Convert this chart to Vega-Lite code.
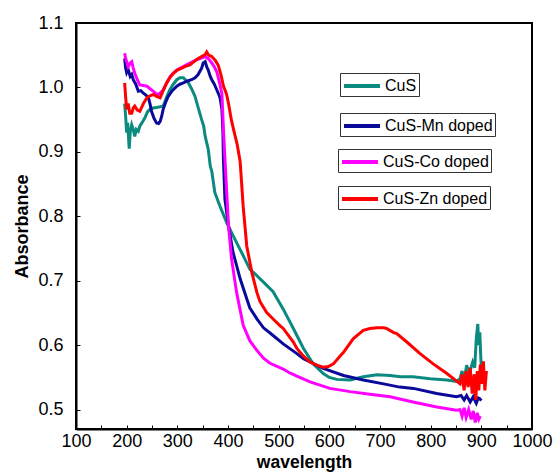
{
  "$schema": "https://vega.github.io/schema/vega-lite/v6.json",
  "autosize": {"type": "none"},
  "padding": {"left": 76, "top": 23, "right": 22, "bottom": 46},
  "width": 456,
  "height": 406,
  "background": "white",
  "config": {
    "font": "Liberation Sans",
    "view": {"stroke": "black", "strokeWidth": 2},
    "axis": {"grid": false, "domainColor": "black", "domainWidth": 2, "tickColor": "black", "labelColor": "black", "titleColor": "black", "labelFont": "Liberation Sans", "titleFont": "Liberation Sans"},
    "legend": {"labelFont": "Liberation Sans", "labelFontSize": 16, "labelColor": "black", "symbolType": "M-1,0L3,0", "symbolSize": 324, "symbolStrokeWidth": 4, "strokeColor": "#333", "padding": 2, "labelOffset": 21, "title": null}
  },
  "datasets": {
    "spectra": [
      {"s":"CuS","x":196,"y":0.975},{"s":"CuS","x":198,"y":0.955},{"s":"CuS","x":200,"y":0.93},{"s":"CuS","x":202,"y":0.945},{"s":"CuS","x":205,"y":0.905},{"s":"CuS","x":207,"y":0.93},{"s":"CuS","x":210,"y":0.942},{"s":"CuS","x":213,"y":0.935},{"s":"CuS","x":216,"y":0.924},{"s":"CuS","x":219,"y":0.935},{"s":"CuS","x":223,"y":0.932},{"s":"CuS","x":226,"y":0.94},{"s":"CuS","x":230,"y":0.945},{"s":"CuS","x":236,"y":0.953},{"s":"CuS","x":241,"y":0.962},{"s":"CuS","x":246,"y":0.966},{"s":"CuS","x":252,"y":0.968},{"s":"CuS","x":259,"y":0.969},{"s":"CuS","x":266,"y":0.97},{"s":"CuS","x":272,"y":0.971},{"s":"CuS","x":279,"y":0.985},{"s":"CuS","x":285,"y":0.996},{"s":"CuS","x":292,"y":1.005},{"s":"CuS","x":299,"y":1.012},{"s":"CuS","x":305,"y":1.015},{"s":"CuS","x":312,"y":1.015},{"s":"CuS","x":318,"y":1.01},{"s":"CuS","x":322,"y":1.007},{"s":"CuS","x":328,"y":0.998},{"s":"CuS","x":335,"y":0.986},{"s":"CuS","x":341,"y":0.969},{"s":"CuS","x":348,"y":0.95},{"s":"CuS","x":352,"y":0.94},{"s":"CuS","x":355,"y":0.924},{"s":"CuS","x":361,"y":0.904},{"s":"CuS","x":365,"y":0.878},{"s":"CuS","x":368,"y":0.87},{"s":"CuS","x":374,"y":0.837},{"s":"CuS","x":384,"y":0.816},{"s":"CuS","x":397,"y":0.791},{"s":"CuS","x":410,"y":0.77},{"s":"CuS","x":430,"y":0.739},{"s":"CuS","x":443,"y":0.718},{"s":"CuS","x":450,"y":0.713},{"s":"CuS","x":470,"y":0.698},{"s":"CuS","x":489,"y":0.683},{"s":"CuS","x":509,"y":0.656},{"s":"CuS","x":529,"y":0.626},{"s":"CuS","x":549,"y":0.595},{"s":"CuS","x":568,"y":0.571},{"s":"CuS","x":588,"y":0.556},{"s":"CuS","x":600,"y":0.55},{"s":"CuS","x":615,"y":0.547},{"s":"CuS","x":641,"y":0.546},{"s":"CuS","x":667,"y":0.551},{"s":"CuS","x":694,"y":0.554},{"s":"CuS","x":720,"y":0.553},{"s":"CuS","x":740,"y":0.551},{"s":"CuS","x":765,"y":0.551},{"s":"CuS","x":799,"y":0.548},{"s":"CuS","x":832,"y":0.546},{"s":"CuS","x":851,"y":0.544},{"s":"CuS","x":858,"y":0.548},{"s":"CuS","x":862,"y":0.56},{"s":"CuS","x":866,"y":0.545},{"s":"CuS","x":871,"y":0.569},{"s":"CuS","x":876,"y":0.556},{"s":"CuS","x":883,"y":0.574},{"s":"CuS","x":887,"y":0.565},{"s":"CuS","x":890,"y":0.61},{"s":"CuS","x":893,"y":0.633},{"s":"CuS","x":895,"y":0.6},{"s":"CuS","x":897,"y":0.62},{"s":"CuS","x":899,"y":0.58},{"s":"CuS","x":901,"y":0.553},
      {"s":"CuS-Mn doped","x":196,"y":1.045},{"s":"CuS-Mn doped","x":198,"y":1.03},{"s":"CuS-Mn doped","x":200,"y":1.023},{"s":"CuS-Mn doped","x":203,"y":1.028},{"s":"CuS-Mn doped","x":207,"y":1.017},{"s":"CuS-Mn doped","x":210,"y":1.02},{"s":"CuS-Mn doped","x":213,"y":1.012},{"s":"CuS-Mn doped","x":218,"y":1.005},{"s":"CuS-Mn doped","x":223,"y":0.994},{"s":"CuS-Mn doped","x":228,"y":0.995},{"s":"CuS-Mn doped","x":233,"y":0.991},{"s":"CuS-Mn doped","x":238,"y":0.988},{"s":"CuS-Mn doped","x":243,"y":0.984},{"s":"CuS-Mn doped","x":246,"y":0.975},{"s":"CuS-Mn doped","x":249,"y":0.963},{"s":"CuS-Mn doped","x":254,"y":0.952},{"s":"CuS-Mn doped","x":259,"y":0.945},{"s":"CuS-Mn doped","x":263,"y":0.944},{"s":"CuS-Mn doped","x":266,"y":0.947},{"s":"CuS-Mn doped","x":269,"y":0.955},{"s":"CuS-Mn doped","x":272,"y":0.966},{"s":"CuS-Mn doped","x":277,"y":0.977},{"s":"CuS-Mn doped","x":282,"y":0.986},{"s":"CuS-Mn doped","x":290,"y":0.995},{"s":"CuS-Mn doped","x":299,"y":1.002},{"s":"CuS-Mn doped","x":305,"y":1.005},{"s":"CuS-Mn doped","x":312,"y":1.007},{"s":"CuS-Mn doped","x":320,"y":1.01},{"s":"CuS-Mn doped","x":328,"y":1.012},{"s":"CuS-Mn doped","x":335,"y":1.015},{"s":"CuS-Mn doped","x":341,"y":1.02},{"s":"CuS-Mn doped","x":348,"y":1.03},{"s":"CuS-Mn doped","x":351,"y":1.038},{"s":"CuS-Mn doped","x":355,"y":1.04},{"s":"CuS-Mn doped","x":358,"y":1.032},{"s":"CuS-Mn doped","x":361,"y":1.027},{"s":"CuS-Mn doped","x":365,"y":1.017},{"s":"CuS-Mn doped","x":368,"y":1.012},{"s":"CuS-Mn doped","x":373,"y":1.005},{"s":"CuS-Mn doped","x":378,"y":0.996},{"s":"CuS-Mn doped","x":384,"y":0.985},{"s":"CuS-Mn doped","x":388,"y":0.966},{"s":"CuS-Mn doped","x":390,"y":0.93},{"s":"CuS-Mn doped","x":391,"y":0.888},{"s":"CuS-Mn doped","x":394,"y":0.826},{"s":"CuS-Mn doped","x":401,"y":0.785},{"s":"CuS-Mn doped","x":410,"y":0.744},{"s":"CuS-Mn doped","x":424,"y":0.703},{"s":"CuS-Mn doped","x":437,"y":0.672},{"s":"CuS-Mn doped","x":443,"y":0.658},{"s":"CuS-Mn doped","x":457,"y":0.641},{"s":"CuS-Mn doped","x":470,"y":0.627},{"s":"CuS-Mn doped","x":483,"y":0.619},{"s":"CuS-Mn doped","x":509,"y":0.602},{"s":"CuS-Mn doped","x":536,"y":0.587},{"s":"CuS-Mn doped","x":549,"y":0.579},{"s":"CuS-Mn doped","x":588,"y":0.564},{"s":"CuS-Mn doped","x":628,"y":0.553},{"s":"CuS-Mn doped","x":667,"y":0.546},{"s":"CuS-Mn doped","x":707,"y":0.54},{"s":"CuS-Mn doped","x":739,"y":0.535},{"s":"CuS-Mn doped","x":766,"y":0.533},{"s":"CuS-Mn doped","x":812,"y":0.525},{"s":"CuS-Mn doped","x":851,"y":0.52},{"s":"CuS-Mn doped","x":860,"y":0.522},{"s":"CuS-Mn doped","x":866,"y":0.515},{"s":"CuS-Mn doped","x":871,"y":0.522},{"s":"CuS-Mn doped","x":878,"y":0.512},{"s":"CuS-Mn doped","x":884,"y":0.52},{"s":"CuS-Mn doped","x":890,"y":0.51},{"s":"CuS-Mn doped","x":894,"y":0.518},{"s":"CuS-Mn doped","x":897,"y":0.517},{"s":"CuS-Mn doped","x":900,"y":0.514},
      {"s":"CuS-Co doped","x":196,"y":1.053},{"s":"CuS-Co doped","x":198,"y":1.045},{"s":"CuS-Co doped","x":200,"y":1.04},{"s":"CuS-Co doped","x":203,"y":1.032},{"s":"CuS-Co doped","x":207,"y":1.038},{"s":"CuS-Co doped","x":210,"y":1.04},{"s":"CuS-Co doped","x":213,"y":1.03},{"s":"CuS-Co doped","x":216,"y":1.022},{"s":"CuS-Co doped","x":221,"y":1.012},{"s":"CuS-Co doped","x":226,"y":1.004},{"s":"CuS-Co doped","x":233,"y":1.003},{"s":"CuS-Co doped","x":240,"y":1.002},{"s":"CuS-Co doped","x":246,"y":0.998},{"s":"CuS-Co doped","x":253,"y":0.994},{"s":"CuS-Co doped","x":258,"y":0.99},{"s":"CuS-Co doped","x":262,"y":0.989},{"s":"CuS-Co doped","x":267,"y":0.992},{"s":"CuS-Co doped","x":272,"y":0.996},{"s":"CuS-Co doped","x":279,"y":1.007},{"s":"CuS-Co doped","x":286,"y":1.017},{"s":"CuS-Co doped","x":292,"y":1.022},{"s":"CuS-Co doped","x":299,"y":1.027},{"s":"CuS-Co doped","x":308,"y":1.031},{"s":"CuS-Co doped","x":318,"y":1.035},{"s":"CuS-Co doped","x":328,"y":1.039},{"s":"CuS-Co doped","x":338,"y":1.043},{"s":"CuS-Co doped","x":346,"y":1.045},{"s":"CuS-Co doped","x":355,"y":1.048},{"s":"CuS-Co doped","x":362,"y":1.044},{"s":"CuS-Co doped","x":368,"y":1.038},{"s":"CuS-Co doped","x":373,"y":1.032},{"s":"CuS-Co doped","x":378,"y":1.024},{"s":"CuS-Co doped","x":384,"y":1.005},{"s":"CuS-Co doped","x":388,"y":0.99},{"s":"CuS-Co doped","x":391,"y":0.935},{"s":"CuS-Co doped","x":394,"y":0.888},{"s":"CuS-Co doped","x":401,"y":0.785},{"s":"CuS-Co doped","x":407,"y":0.734},{"s":"CuS-Co doped","x":417,"y":0.682},{"s":"CuS-Co doped","x":430,"y":0.631},{"s":"CuS-Co doped","x":443,"y":0.607},{"s":"CuS-Co doped","x":457,"y":0.592},{"s":"CuS-Co doped","x":470,"y":0.58},{"s":"CuS-Co doped","x":483,"y":0.572},{"s":"CuS-Co doped","x":509,"y":0.563},{"s":"CuS-Co doped","x":522,"y":0.557},{"s":"CuS-Co doped","x":536,"y":0.552},{"s":"CuS-Co doped","x":562,"y":0.543},{"s":"CuS-Co doped","x":601,"y":0.533},{"s":"CuS-Co doped","x":641,"y":0.528},{"s":"CuS-Co doped","x":680,"y":0.524},{"s":"CuS-Co doped","x":720,"y":0.52},{"s":"CuS-Co doped","x":765,"y":0.512},{"s":"CuS-Co doped","x":812,"y":0.504},{"s":"CuS-Co doped","x":851,"y":0.499},{"s":"CuS-Co doped","x":858,"y":0.5},{"s":"CuS-Co doped","x":862,"y":0.49},{"s":"CuS-Co doped","x":866,"y":0.503},{"s":"CuS-Co doped","x":870,"y":0.488},{"s":"CuS-Co doped","x":875,"y":0.5},{"s":"CuS-Co doped","x":880,"y":0.485},{"s":"CuS-Co doped","x":884,"y":0.498},{"s":"CuS-Co doped","x":888,"y":0.48},{"s":"CuS-Co doped","x":892,"y":0.495},{"s":"CuS-Co doped","x":895,"y":0.485},{"s":"CuS-Co doped","x":898,"y":0.49},
      {"s":"CuS-Zn doped","x":196,"y":1.007},{"s":"CuS-Zn doped","x":198,"y":0.985},{"s":"CuS-Zn doped","x":200,"y":0.966},{"s":"CuS-Zn doped","x":203,"y":0.975},{"s":"CuS-Zn doped","x":206,"y":0.96},{"s":"CuS-Zn doped","x":210,"y":0.96},{"s":"CuS-Zn doped","x":213,"y":0.968},{"s":"CuS-Zn doped","x":216,"y":0.971},{"s":"CuS-Zn doped","x":221,"y":0.965},{"s":"CuS-Zn doped","x":226,"y":0.963},{"s":"CuS-Zn doped","x":233,"y":0.975},{"s":"CuS-Zn doped","x":240,"y":0.984},{"s":"CuS-Zn doped","x":246,"y":0.987},{"s":"CuS-Zn doped","x":253,"y":0.989},{"s":"CuS-Zn doped","x":259,"y":0.986},{"s":"CuS-Zn doped","x":266,"y":0.984},{"s":"CuS-Zn doped","x":272,"y":0.995},{"s":"CuS-Zn doped","x":279,"y":1.007},{"s":"CuS-Zn doped","x":285,"y":1.015},{"s":"CuS-Zn doped","x":292,"y":1.022},{"s":"CuS-Zn doped","x":300,"y":1.027},{"s":"CuS-Zn doped","x":309,"y":1.03},{"s":"CuS-Zn doped","x":317,"y":1.033},{"s":"CuS-Zn doped","x":325,"y":1.035},{"s":"CuS-Zn doped","x":333,"y":1.04},{"s":"CuS-Zn doped","x":341,"y":1.045},{"s":"CuS-Zn doped","x":348,"y":1.048},{"s":"CuS-Zn doped","x":355,"y":1.051},{"s":"CuS-Zn doped","x":358,"y":1.055},{"s":"CuS-Zn doped","x":362,"y":1.05},{"s":"CuS-Zn doped","x":368,"y":1.048},{"s":"CuS-Zn doped","x":375,"y":1.042},{"s":"CuS-Zn doped","x":381,"y":1.034},{"s":"CuS-Zn doped","x":386,"y":1.02},{"s":"CuS-Zn doped","x":391,"y":1.002},{"s":"CuS-Zn doped","x":397,"y":0.99},{"s":"CuS-Zn doped","x":401,"y":0.975},{"s":"CuS-Zn doped","x":407,"y":0.948},{"s":"CuS-Zn doped","x":414,"y":0.925},{"s":"CuS-Zn doped","x":418,"y":0.912},{"s":"CuS-Zn doped","x":424,"y":0.885},{"s":"CuS-Zn doped","x":430,"y":0.815},{"s":"CuS-Zn doped","x":437,"y":0.754},{"s":"CuS-Zn doped","x":447,"y":0.713},{"s":"CuS-Zn doped","x":457,"y":0.682},{"s":"CuS-Zn doped","x":463,"y":0.668},{"s":"CuS-Zn doped","x":476,"y":0.651},{"s":"CuS-Zn doped","x":490,"y":0.64},{"s":"CuS-Zn doped","x":503,"y":0.63},{"s":"CuS-Zn doped","x":509,"y":0.626},{"s":"CuS-Zn doped","x":529,"y":0.605},{"s":"CuS-Zn doped","x":536,"y":0.595},{"s":"CuS-Zn doped","x":549,"y":0.583},{"s":"CuS-Zn doped","x":562,"y":0.574},{"s":"CuS-Zn doped","x":575,"y":0.569},{"s":"CuS-Zn doped","x":588,"y":0.566},{"s":"CuS-Zn doped","x":598,"y":0.567},{"s":"CuS-Zn doped","x":608,"y":0.571},{"s":"CuS-Zn doped","x":618,"y":0.58},{"s":"CuS-Zn doped","x":628,"y":0.589},{"s":"CuS-Zn doped","x":647,"y":0.61},{"s":"CuS-Zn doped","x":667,"y":0.623},{"s":"CuS-Zn doped","x":680,"y":0.626},{"s":"CuS-Zn doped","x":694,"y":0.627},{"s":"CuS-Zn doped","x":707,"y":0.627},{"s":"CuS-Zn doped","x":713,"y":0.626},{"s":"CuS-Zn doped","x":726,"y":0.62},{"s":"CuS-Zn doped","x":733,"y":0.618},{"s":"CuS-Zn doped","x":753,"y":0.605},{"s":"CuS-Zn doped","x":779,"y":0.587},{"s":"CuS-Zn doped","x":805,"y":0.571},{"s":"CuS-Zn doped","x":832,"y":0.556},{"s":"CuS-Zn doped","x":850,"y":0.545},{"s":"CuS-Zn doped","x":858,"y":0.54},{"s":"CuS-Zn doped","x":862,"y":0.555},{"s":"CuS-Zn doped","x":866,"y":0.53},{"s":"CuS-Zn doped","x":870,"y":0.56},{"s":"CuS-Zn doped","x":874,"y":0.535},{"s":"CuS-Zn doped","x":878,"y":0.565},{"s":"CuS-Zn doped","x":882,"y":0.525},{"s":"CuS-Zn doped","x":886,"y":0.555},{"s":"CuS-Zn doped","x":889,"y":0.515},{"s":"CuS-Zn doped","x":892,"y":0.56},{"s":"CuS-Zn doped","x":895,"y":0.53},{"s":"CuS-Zn doped","x":898,"y":0.57},{"s":"CuS-Zn doped","x":901,"y":0.54},{"s":"CuS-Zn doped","x":904,"y":0.575},{"s":"CuS-Zn doped","x":907,"y":0.53},{"s":"CuS-Zn doped","x":910,"y":0.56}
    ]
  },
  "data": {"name": "spectra"},
  "encoding": {
    "x": {"field": "x", "type": "quantitative", "scale": {"domain": [100, 1000], "nice": false, "zero": false},
      "axis": {"title": "wavelength", "titleFontSize": 17.5, "titleFontWeight": "bold", "titlePadding": 3,
        "values": [100,150,200,250,300,350,400,450,500,550,600,650,700,750,800,850,900,950,1000],
        "format": "d",
        "labelExpr": "datum.value % 100 === 0 ? datum.label : ''", "labelFontSize": 18, "labelOverlap": false, "labelBound": false, "labelFlush": false,
        "tickSize": -4, "labelPadding": 7}},
    "y": {"field": "y", "type": "quantitative", "scale": {"domain": [0.47, 1.1], "nice": false, "zero": false},
      "axis": {"title": "Absorbance", "titleFontSize": 18, "titleFontWeight": "bold", "titlePadding": 6,
        "values": [0.5,0.6,0.7,0.8,0.9,1.0,1.1], "format": ".1f", "labelFontSize": 18, "labelOverlap": false, "labelFlush": false,
        "tickSize": -4, "labelPadding": 17}}
  },
  "layer": [
    {"transform": [{"filter": "datum.s === 'CuS'"}], "mark": {"type": "line", "strokeWidth": 3, "interpolate": "linear"},
      "encoding": {"color": {"field": "s", "type": "nominal", "scale": {"domain": ["CuS"], "range": ["#0b8a80"]}, "legend": {"orient": "none", "legendX": 264, "legendY": 50}}}},
    {"transform": [{"filter": "datum.s === 'CuS-Mn doped'"}], "mark": {"type": "line", "strokeWidth": 3},
      "encoding": {"color": {"field": "s", "type": "nominal", "scale": {"domain": ["CuS-Mn doped"], "range": ["#0a0a9a"]}, "legend": {"orient": "none", "legendX": 264, "legendY": 90}}}},
    {"transform": [{"filter": "datum.s === 'CuS-Co doped'"}], "mark": {"type": "line", "strokeWidth": 3},
      "encoding": {"color": {"field": "s", "type": "nominal", "scale": {"domain": ["CuS-Co doped"], "range": ["#ff00ff"]}, "legend": {"orient": "none", "legendX": 262, "legendY": 126}}}},
    {"transform": [{"filter": "datum.s === 'CuS-Zn doped'"}], "mark": {"type": "line", "strokeWidth": 3},
      "encoding": {"color": {"field": "s", "type": "nominal", "scale": {"domain": ["CuS-Zn doped"], "range": ["#ff0000"]}, "legend": {"orient": "none", "legendX": 262, "legendY": 163}}}}
  ],
  "resolve": {"scale": {"color": "independent"}, "legend": {"color": "independent"}}
}
